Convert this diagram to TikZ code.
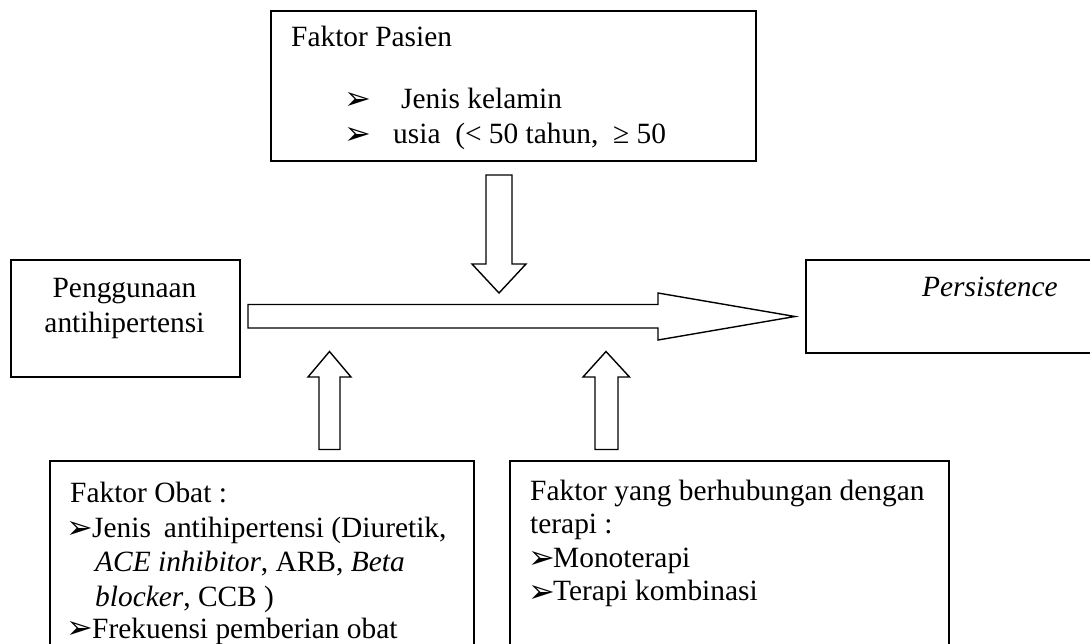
\documentclass[tikz,border=0pt]{standalone}
\usepackage{fontspec}
\setmainfont{Liberation Serif}
\newfontfamily\symfont{DejaVu Sans}
\begin{document}
\begin{tikzpicture}[x=1pt,y=-1pt,
  box/.style={draw, line width=1.6pt, rectangle, inner sep=0pt, anchor=north west},
  txt/.style={anchor=base west, inner sep=0pt, font=\fontsize{29.4}{34.5}\selectfont},
  ctxt/.style={anchor=base, inner sep=0pt, font=\fontsize{29.4}{34.5}\selectfont},
  bul/.style={anchor=base west, inner sep=0pt, yshift=-1.5pt, font=\symfont\fontsize{32}{34}\selectfont},
  blk/.style={draw, line width=1.4pt, line join=miter, fill=white}]
\useasboundingbox (0,0) rectangle (1090,643);
\clip (0,0) rectangle (1090,643);
% boxes
\node[box, minimum width=485pt, minimum height=150pt] (pasien) at (270,10) {};
\node[box, minimum width=229pt, minimum height=117pt] (guna) at (10,259) {};
\node[box, minimum width=320pt, minimum height=93pt] (pers) at (805,259) {};
\node[box, minimum width=424pt, minimum height=220pt] (obat) at (49,460) {};
\node[box, minimum width=439pt, minimum height=220pt] (terapi) at (509,460) {};
% block arrows
\draw[blk] (248,304.5) -- (658,304.5) -- (658,293) -- (795,316.5) -- (658,340) -- (658,328) -- (248,328) -- cycle;
\draw[blk] (486,175) -- (512,175) -- (512,264) -- (526,264) -- (499,293) -- (472,264) -- (486,264) -- cycle;
\draw[blk] (319,449.5) -- (340,449.5) -- (340,377) -- (351,377) -- (329.5,351.5) -- (308,377) -- (319,377) -- cycle;
\draw[blk] (595,449.5) -- (618,449.5) -- (618,377) -- (629.5,377) -- (606,351.5) -- (583,377) -- (595,377) -- cycle;
% top box text
\node[txt] (pt1) at (291,46.7) {Faktor Pasien};
\node[bul] (pb1) at (344,108.3) {➢};
\node[txt] (pt2) at (401,108.3) {Jenis kelamin};
\node[bul] (pb2) at (344,143.3) {➢};
\node[txt] (pt3) at (393,143.3) {usia\ \ (< 50 tahun,\ \ ≥ 50};
% left box
\node[ctxt] (gt1) at (124.5,297) {Penggunaan};
\node[ctxt] (gt2) at (124.5,332) {antihipertensi};
% persistence
\node[txt] (prt) at (922,296) {\textit{Persistence}};
% obat box
\node[txt] (ot1) at (70,502) {Faktor Obat :};
\node[bul] (ob1) at (66,537) {➢};
\node[txt] (ot2) at (92,537) {Jenis\hspace{13pt}antihipertensi (Diuretik,};
\node[txt] (ot3) at (95,571.5) {\textit{ACE inhibitor}, ARB, \textit{Beta}};
\node[txt] (ot4) at (95,606) {\textit{blocker}, CCB )};
\node[bul] (ob2) at (66,637) {➢};
\node[txt] (ot5) at (92,638) {Frekuensi pemberian obat};
% terapi box
\node[txt] (tt1) at (530,500) {Faktor yang berhubungan dengan};
\node[txt] (tt2) at (530,533.5) {terapi :};
\node[bul] (tb1) at (528,567) {➢};
\node[txt] (tt3) at (553,567) {Monoterapi};
\node[bul] (tb2) at (528,600.5) {➢};
\node[txt] (tt4) at (553,600.5) {Terapi kombinasi};
\end{tikzpicture}
\end{document}
